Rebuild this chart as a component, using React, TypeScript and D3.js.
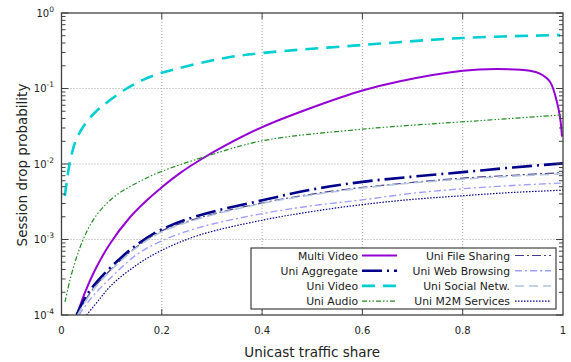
import React, { useEffect, useRef } from "react";
import * as d3 from "d3";

const W = 571;
const H = 362;

// x ticks / y decades
const xTickValues = [0, 0.2, 0.4, 0.6, 0.8, 1];
const xTickLabels = ["0", "0.2", "0.4", "0.6", "0.8", "1"];
const yTickValues = [1e-4, 1e-3, 1e-2, 1e-1, 1];
const yTickExps = ["-4", "-3", "-2", "-1", "0"];

// series: [unicast share, drop probability]
const multiVideo = [
  [0.0309, 1e-4], [0.0469, 1.99e-4], [0.0668, 3.94e-4], [0.0967, 8.8e-4], [0.1366, 1.97e-3],
  [0.1665, 3.14e-3], [0.1984, 4.82e-3], [0.2363, 7.57e-3], [0.2762, 0.0113], [0.326, 0.0175],
  [0.3992, 0.0306], [0.5, 0.056], [0.6, 0.094], [0.675, 0.125], [0.8, 0.172], [0.868, 0.181],
  [0.934, 0.172], [0.954, 0.157], [0.974, 0.123], [0.987, 0.07], [0.994, 0.042],
  [0.998, 0.023],
];
const uniAggregate = [
  [0.03, 1e-4], [0.045, 1.6e-4], [0.063, 2.4e-4], [0.1, 4.4e-4], [0.15, 8.5e-4],
  [0.2, 1.36e-3], [0.276, 2.1e-3], [0.4, 3.3e-3], [0.5, 4.6e-3], [0.6, 5.8e-3],
  [0.7, 6.8e-3], [0.8, 7.8e-3], [0.9, 9.0e-3], [1.0, 0.0102],
];
const uniVideo = [
  [0.0066, 3.77e-3], [0.0104, 5.78e-3], [0.015, 9.13e-3], [0.0209, 0.014], [0.0289, 0.0208],
  [0.0469, 0.0339], [0.0668, 0.0481], [0.0867, 0.0623], [0.13, 0.10], [0.1625, 0.13],
  [0.198, 0.16], [0.326, 0.254], [0.4, 0.295], [0.6, 0.377], [0.8, 0.467], [0.994, 0.51],
];
const uniAudio = [
  [0.007, 1.49e-4], [0.0169, 2.91e-4], [0.0289, 5.52e-4], [0.0429, 9.85e-4], [0.0608, 1.71e-3],
  [0.0833, 2.69e-3], [0.1127, 4.01e-3], [0.15, 5.6e-3], [0.1964, 7.83e-3], [0.2862, 0.0125],
  [0.3992, 0.0202], [0.599, 0.0289], [0.834, 0.0375], [0.997, 0.0446],
];
const uniFileSharing = [
  [0.031, 1e-4], [0.06, 2.1e-4], [0.1, 4.1e-4], [0.15, 8e-4], [0.2, 1.3e-3],
  [0.276, 1.95e-3], [0.4, 3.05e-3], [0.5, 4.0e-3], [0.6, 4.9e-3], [0.7, 5.7e-3],
  [0.8, 6.5e-3], [0.9, 7.1e-3], [1.0, 7.7e-3],
];
const uniWebBrowsing = [
  [0.035, 1e-4], [0.06, 1.7e-4], [0.1, 3.2e-4], [0.15, 6.3e-4], [0.2, 9.6e-4],
  [0.276, 1.45e-3], [0.4, 2.2e-3], [0.5, 2.8e-3], [0.6, 3.35e-3], [0.7, 4.1e-3],
  [0.8, 4.7e-3], [0.9, 5.2e-3], [1.0, 5.6e-3],
];
const uniSocialNetw = [
  [0.032, 1e-4], [0.06, 2e-4], [0.1, 4e-4], [0.15, 7.8e-4], [0.2, 1.26e-3],
  [0.276, 1.9e-3], [0.4, 3.0e-3], [0.5, 3.9e-3], [0.6, 4.8e-3], [0.7, 5.6e-3],
  [0.8, 6.3e-3], [0.9, 6.9e-3], [1.0, 7.4e-3],
];
const uniM2M = [
  [0.05, 1e-4], [0.075, 1.6e-4], [0.1, 2.5e-4], [0.15, 4.6e-4], [0.2, 7.2e-4],
  [0.276, 1.15e-3], [0.4, 1.8e-3], [0.5, 2.35e-3], [0.6, 2.9e-3], [0.7, 3.4e-3],
  [0.8, 3.8e-3], [0.9, 4.2e-3], [1.0, 4.5e-3],
];

const series = [
  { name: "Multi Video", data: multiVideo, color: "#9400d3", width: 2, dash: null, col: 0, row: 0 },
  { name: "Uni Aggregate", data: uniAggregate, color: "#00008b", width: 2.6, dash: "20,5,2,5", col: 0, row: 1 },
  { name: "Uni Video", data: uniVideo, color: "#00ced1", width: 2.6, dash: "13,8", col: 0, row: 2 },
  { name: "Uni Audio", data: uniAudio, color: "#228b22", width: 1.2, dash: "5,2,1.5,2,1.5,2", col: 0, row: 3 },
  { name: "Uni File Sharing", data: uniFileSharing, color: "#483d8b", width: 1.2, dash: "9,3,2,3", col: 1, row: 0 },
  { name: "Uni Web Browsing", data: uniWebBrowsing, color: "#9f9fff", width: 1.4, dash: "7,3,2,3", col: 1, row: 1 },
  { name: "Uni Social Netw.", data: uniSocialNetw, color: "#b0c4de", width: 1.5, dash: "9,5", col: 1, row: 2 },
  { name: "Uni M2M Services", data: uniM2M, color: "#00008b", width: 1.2, dash: "1.5,1.5", col: 1, row: 3 },
];

const App = () => {
  const ref = useRef(null);

  useEffect(() => {
    const svg = d3.select(ref.current);
    svg.selectAll("*").remove();

    const x = d3.scaleLinear().domain([0, 1]).range([61.5, 563]);
    const y = d3.scaleLog().domain([1e-4, 1]).range([315, 13]);
    const [x0, x1] = x.range();
    const [yb, yt] = y.range();
    const frame = "#404040";
    const font = "DejaVu Sans, Verdana, sans-serif";

    svg.append("rect").attr("width", W).attr("height", H).attr("fill", "white");

    svg.append("clipPath").attr("id", "plotclip")
      .append("rect").attr("x", x0).attr("y", yt).attr("width", x1 - x0).attr("height", yb - yt);

    // grid
    const grid = svg.append("g")
      .attr("stroke", "#a0a0a0").attr("stroke-width", 1).attr("stroke-dasharray", "1,2");
    xTickValues.slice(1, -1).forEach(v => {
      grid.append("line").attr("x1", x(v)).attr("x2", x(v)).attr("y1", yt).attr("y2", yb);
    });
    yTickValues.slice(1, -1).forEach(v => {
      grid.append("line").attr("x1", x0).attr("x2", x1).attr("y1", y(v)).attr("y2", y(v));
    });

    // curves
    const line = d3.line()
      .x(d => x(d[0]))
      .y(d => y(d[1]))
      .curve(d3.curveCatmullRom.alpha(0.5));

    const plot = svg.append("g").attr("clip-path", "url(#plotclip)");
    series.forEach(s => {
      plot.append("path")
        .attr("d", line(s.data))
        .attr("fill", "none")
        .attr("stroke", s.color)
        .attr("stroke-width", s.width)
        .attr("stroke-dasharray", s.dash)
        .attr("stroke-linejoin", "round");
    });

    // frame + ticks
    const axes = svg.append("g").attr("stroke", frame).attr("stroke-width", 1);
    axes.append("rect")
      .attr("x", x0).attr("y", yt).attr("width", x1 - x0).attr("height", yb - yt)
      .attr("fill", "none").attr("stroke-width", 1.3);

    xTickValues.slice(1, -1).forEach(v => {
      axes.append("line").attr("x1", x(v)).attr("x2", x(v)).attr("y1", yb).attr("y2", yb - 6);
      axes.append("line").attr("x1", x(v)).attr("x2", x(v)).attr("y1", yt).attr("y2", yt + 6);
    });

    const majors = new Set(yTickValues.map(v => Math.round(Math.log10(v))));
    y.ticks().forEach(v => {
      const lg = Math.log10(v);
      const isMajor = Math.abs(lg - Math.round(lg)) < 1e-9 && majors.has(Math.round(lg));
      const len = isMajor ? 7 : 4;
      axes.append("line").attr("x1", x0).attr("x2", x0 + len).attr("y1", y(v)).attr("y2", y(v));
      axes.append("line").attr("x1", x1).attr("x2", x1 - len).attr("y1", y(v)).attr("y2", y(v));
    });

    // tick labels
    const labels = svg.append("g").attr("font-family", font).attr("fill", "#222");
    xTickValues.forEach((v, i) => {
      labels.append("text")
        .attr("x", x(v)).attr("y", 334)
        .attr("text-anchor", "middle")
        .attr("font-size", 10)
        .text(xTickLabels[i]);
    });
    yTickValues.forEach((v, i) => {
      const t = labels.append("text")
        .attr("x", 54).attr("y", y(v) + 3.5)
        .attr("text-anchor", "end")
        .attr("font-size", 10);
      t.append("tspan").text("10");
      t.append("tspan").attr("dy", -5).attr("font-size", 7.5).text(yTickExps[i]);
    });

    // axis titles
    svg.append("text")
      .attr("x", (x0 + x1) / 2).attr("y", 357)
      .attr("text-anchor", "middle")
      .attr("font-family", font).attr("font-size", 13.5).attr("fill", "#222")
      .text("Unicast traffic share");
    svg.append("text")
      .attr("transform", "translate(27,165) rotate(-90)")
      .attr("text-anchor", "middle")
      .attr("font-family", font).attr("font-size", 13.5).attr("fill", "#222")
      .text("Session drop probability");

    // legend
    const legend = svg.append("g");
    legend.append("rect")
      .attr("x", 251).attr("y", 248).attr("width", 305).attr("height", 61)
      .attr("fill", "white").attr("stroke", frame).attr("stroke-width", 1.2);
    const colText = [358, 510];
    const colSample = [[362, 397], [515, 551]];
    series.forEach(s => {
      const cy = 255.5 + s.row * 15.2;
      legend.append("text")
        .attr("x", colText[s.col]).attr("y", cy + 4)
        .attr("text-anchor", "end")
        .attr("font-family", font).attr("font-size", 10.8).attr("fill", "#222")
        .text(s.name);
      legend.append("line")
        .attr("x1", colSample[s.col][0]).attr("x2", colSample[s.col][1])
        .attr("y1", cy).attr("y2", cy)
        .attr("stroke", s.color)
        .attr("stroke-width", s.width)
        .attr("stroke-dasharray", s.dash);
    });
  }, []);

  return (
    <svg
      ref={ref}
      width={W}
      height={H}
      style={{ position: "absolute", left: 0, top: 0 }}
    />
  );
};

export default App;
